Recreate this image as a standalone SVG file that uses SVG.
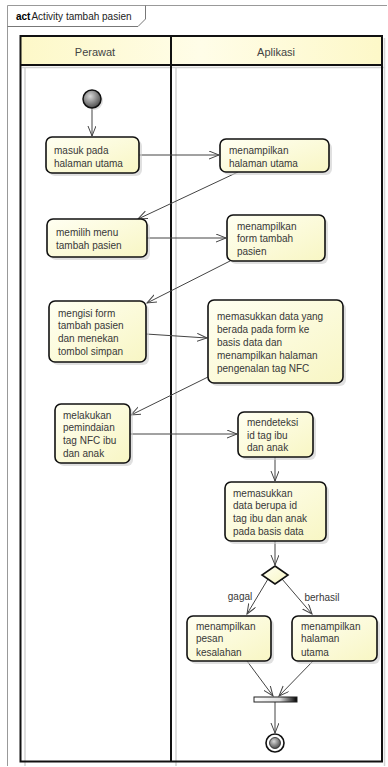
<svg xmlns="http://www.w3.org/2000/svg" width="388" height="767" viewBox="0 0 388 767">
<style>
.t{font-family:"Liberation Sans",Arial,sans-serif;font-size:10px;fill:#383838}
.h{font-family:"Liberation Sans",Arial,sans-serif;font-size:11px;fill:#444}
.box{fill:url(#bg);stroke:#111;stroke-width:1.6}
.sh{fill:#ccc;opacity:0.6}
.c{stroke:#444;stroke-width:1;fill:none}
.lane{fill:none;stroke:#111;stroke-width:2}
.ls{stroke:#d4d4d4;stroke-width:1.5;fill:none}
</style>
<defs>
<linearGradient id="bg" x1="0" y1="0" x2="1" y2="1">
<stop offset="0" stop-color="#fffff2"/><stop offset="1" stop-color="#f8f6c4"/>
</linearGradient>
<linearGradient id="hg" x1="0" y1="0" x2="1" y2="0">
<stop offset="0" stop-color="#fdf8c8"/><stop offset="0.5" stop-color="#fffde8"/><stop offset="1" stop-color="#fdf8c8"/>
</linearGradient>
<radialGradient id="ng" cx="0.4" cy="0.35" r="0.7">
<stop offset="0" stop-color="#d8d8d8"/><stop offset="1" stop-color="#444"/>
</radialGradient>
<linearGradient id="barg" x1="0" y1="0" x2="1" y2="0">
<stop offset="0" stop-color="#fff"/><stop offset="0.6" stop-color="#ddd"/><stop offset="1" stop-color="#000"/>
</linearGradient>
<marker id="a" markerWidth="12" markerHeight="10" refX="10" refY="4" orient="auto" markerUnits="userSpaceOnUse">
<path d="M0,0 L10,4 L0,8" fill="none" stroke="#444" stroke-width="1"/>
</marker>
</defs>
<rect width="388" height="767" fill="#fff"/>
<g id="frame">
<path d="M7.5,766 V5.5 H387" fill="none" stroke="#999" stroke-width="1"/>
<path d="M7.5,26.5 H138 L145.5,19 V5.5" fill="none" stroke="#777" stroke-width="1"/>
<text x="16" y="20" font-family="'Liberation Sans',Arial,sans-serif" font-size="10px"><tspan font-weight="bold" fill="#000">act</tspan><tspan fill="#222" dx="1">Activity tambah pasien</tspan></text>
</g>
<g id="lanes">
<path class="ls" d="M25,67 V766 M176,67 V766 M22,67.5 H384"/>
<path class="ls" d="M384.5,38 V766"/>
<rect x="20.5" y="36" width="361.5" height="29" fill="url(#hg)"/>
<rect class="lane" x="20.5" y="36" width="361.5" height="725.5"/>
<path class="lane" d="M20.5,65 H382 M171,36 V761.5"/>
<text x="95" y="56" class="h" text-anchor="middle">Perawat</text>
<text x="276" y="56" class="h" text-anchor="middle">Aplikasi</text>
</g>
<g id="connectors">
<line class="c" x1="92" y1="108" x2="92" y2="136" marker-end="url(#a)"/>
<line class="c" x1="139" y1="155" x2="219" y2="155" marker-end="url(#a)"/>
<line class="c" x1="238" y1="172" x2="138" y2="219" marker-end="url(#a)"/>
<line class="c" x1="147" y1="238" x2="226" y2="238" marker-end="url(#a)"/>
<line class="c" x1="230" y1="261" x2="147" y2="303" marker-end="url(#a)"/>
<line class="c" x1="146" y1="334" x2="207" y2="338" marker-end="url(#a)"/>
<line class="c" x1="208" y1="377" x2="131" y2="415" marker-end="url(#a)"/>
<line class="c" x1="130" y1="434" x2="237" y2="434" marker-end="url(#a)"/>
<line class="c" x1="275" y1="457" x2="275" y2="481" marker-end="url(#a)"/>
<line class="c" x1="275" y1="541" x2="275" y2="565" marker-end="url(#a)"/>
<line class="c" x1="268" y1="579" x2="247" y2="614" marker-end="url(#a)"/>
<line class="c" x1="282" y1="579" x2="312" y2="614" marker-end="url(#a)"/>
<line class="c" x1="247" y1="661" x2="273" y2="696" marker-end="url(#a)"/>
<line class="c" x1="313" y1="661" x2="279" y2="696" marker-end="url(#a)"/>
<line class="c" x1="275" y1="702" x2="275" y2="733" marker-end="url(#a)"/>
<text x="240" y="600" class="t" text-anchor="middle">gagal</text>
<text x="322" y="601" class="t" text-anchor="middle">berhasil</text>
</g>
<g id="start">
<circle cx="94" cy="101" r="9" class="sh"/>
<circle cx="92" cy="99" r="9" fill="url(#ng)" stroke="#111" stroke-width="1.5"/>
</g>
<g id="n1">
<rect x="49" y="140" width="93" height="36" rx="6" class="sh"/>
<rect x="46" y="137" width="93" height="36" rx="6" class="box"/>
<text class="t"><tspan x="54" y="153.5">masuk pada</tspan><tspan x="54" y="166.5">halaman utama</tspan></text>
</g>
<g id="n2">
<rect x="223" y="142" width="109" height="33" rx="6" class="sh"/>
<rect x="220" y="139" width="109" height="33" rx="6" class="box"/>
<text class="t"><tspan x="229" y="153.5">menampilkan</tspan><tspan x="229" y="166.5">halaman utama</tspan></text>
</g>
<g id="n3">
<rect x="50" y="222" width="100" height="38" rx="6" class="sh"/>
<rect x="47" y="219" width="100" height="38" rx="6" class="box"/>
<text class="t"><tspan x="56" y="235.5">memilih menu</tspan><tspan x="56" y="248.5">tambah pasien</tspan></text>
</g>
<g id="n4">
<rect x="230" y="218" width="98" height="46" rx="6" class="sh"/>
<rect x="227" y="215" width="98" height="46" rx="6" class="box"/>
<text class="t"><tspan x="237" y="229.5">menampilkan</tspan><tspan x="237" y="242">form tambah</tspan><tspan x="237" y="254.5">pasien</tspan></text>
</g>
<g id="n5">
<rect x="52" y="304" width="97" height="61" rx="6" class="sh"/>
<rect x="49" y="301" width="97" height="61" rx="6" class="box"/>
<text class="t"><tspan x="58" y="316.5">mengisi form</tspan><tspan x="58" y="329">tambah pasien</tspan><tspan x="58" y="341.5">dan menekan</tspan><tspan x="58" y="354.5">tombol simpan</tspan></text>
</g>
<g id="n6">
<rect x="211" y="303" width="135" height="83" rx="6" class="sh"/>
<rect x="208" y="300" width="135" height="83" rx="6" class="box"/>
<text class="t"><tspan x="217" y="319.5">memasukkan data yang</tspan><tspan x="217" y="332.5">berada pada form ke</tspan><tspan x="217" y="345.5">basis data dan</tspan><tspan x="217" y="358.5">menampilkan halaman</tspan><tspan x="217" y="371.5">pengenalan tag NFC</tspan></text>
</g>
<g id="n7">
<rect x="58" y="407" width="75" height="59" rx="6" class="sh"/>
<rect x="55" y="404" width="75" height="59" rx="6" class="box"/>
<text class="t"><tspan x="63" y="418.5">melakukan</tspan><tspan x="63" y="431">pemindaian</tspan><tspan x="63" y="444">tag NFC ibu</tspan><tspan x="63" y="456.5">dan anak</tspan></text>
</g>
<g id="n8">
<rect x="241" y="415" width="75" height="45" rx="6" class="sh"/>
<rect x="238" y="412" width="75" height="45" rx="6" class="box"/>
<text class="t"><tspan x="247" y="425.5">mendeteksi</tspan><tspan x="247" y="438.5">id tag ibu</tspan><tspan x="247" y="450.5">dan anak</tspan></text>
</g>
<g id="n9">
<rect x="228" y="485" width="101" height="59" rx="6" class="sh"/>
<rect x="225" y="482" width="101" height="59" rx="6" class="box"/>
<text class="t"><tspan x="233" y="496.5">memasukkan</tspan><tspan x="233" y="508.5">data berupa id</tspan><tspan x="233" y="521.5">tag ibu dan anak</tspan><tspan x="233" y="534.5">pada basis data</tspan></text>
</g>
<g id="decision">
<path d="M275,566 L288,575 L275,584 L262,575 Z" fill="url(#bg)" stroke="#111" stroke-width="1.6"/>
</g>
<g id="n10">
<rect x="190" y="619" width="84" height="45" rx="6" class="sh"/>
<rect x="187" y="616" width="84" height="45" rx="6" class="box"/>
<text class="t"><tspan x="196" y="629.5">menampilkan</tspan><tspan x="196" y="641.5">pesan</tspan><tspan x="196" y="655.5">kesalahan</tspan></text>
</g>
<g id="n11">
<rect x="295" y="619" width="85" height="45" rx="6" class="sh"/>
<rect x="292" y="616" width="85" height="45" rx="6" class="box"/>
<text class="t"><tspan x="301" y="629.5">menampilkan</tspan><tspan x="301" y="641.5">halaman</tspan><tspan x="301" y="655.5">utama</tspan></text>
</g>
<g id="join">
<rect x="254" y="697" width="43" height="5" fill="url(#barg)" stroke="#222" stroke-width="1"/>
</g>
<g id="end">
<circle cx="275" cy="743" r="9" fill="#fff" stroke="#111" stroke-width="1.6"/>
<circle cx="275" cy="743" r="5.5" fill="url(#ng)" stroke="#222" stroke-width="0.8"/>
</g>
</svg>
